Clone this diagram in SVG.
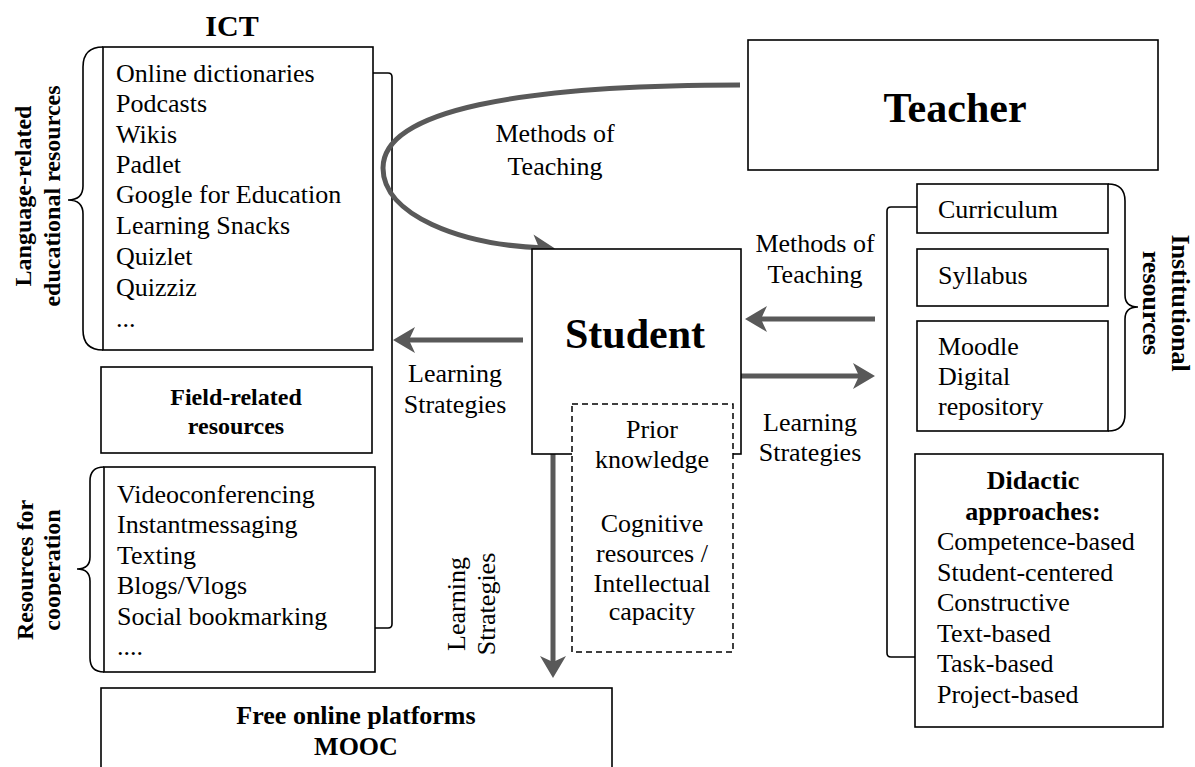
<svg xmlns="http://www.w3.org/2000/svg" width="1195" height="767" viewBox="0 0 1195 767">
<style>
text{font-family:"Liberation Serif","Times New Roman",serif;font-size:26px;fill:#000}
.b{font-weight:bold}
.m{text-anchor:middle}
.box{fill:#fff;stroke:#000;stroke-width:1.6}
.dash{fill:#fff;stroke:#000;stroke-width:1.5;stroke-dasharray:6 4}
.ln{fill:none;stroke:#000;stroke-width:1.6}
.arr{fill:none;stroke:#595959;stroke-width:5;marker-end:url(#ah)}
</style>
<defs>
<marker id="ah" markerUnits="userSpaceOnUse" viewBox="-14 -15 28 30" markerWidth="28" markerHeight="30" refX="0" refY="0" orient="auto">
<path d="M11,0 L-11,-13 L-5,0 L-11,13 Z" fill="#595959"/>
</marker>
<clipPath id="clipcoop"><rect x="0" y="440" width="61" height="260"/></clipPath>
</defs>
<rect width="1195" height="767" fill="#fff"/>

<g id="connectors">
<path class="ln" d="M373,73 L388,73 Q392,73 392,77 L392,624 Q392,628 388,628 L375,628"/>
<path class="ln" d="M917,207 L891,207 Q887,207 887,211 L887,653 Q887,657 891,657 L915,657"/>
<path class="arr" d="M740,85 C520,85 383,110 383,168 C383,215 460,245 544,248"/>
<path class="arr" d="M523,340 L404,340"/>
<path class="arr" d="M875,319 L756,319"/>
<path class="arr" d="M741,376 L864,376"/>
<path class="arr" d="M553,454 L553,667"/>
</g>

<g id="label-ict"><text class="b m" x="232" y="36" style="font-size:30px">ICT</text></g>

<g id="ict-language">
<rect class="box" x="103" y="47" width="270" height="303"/>
<text x="116" y="82">Online dictionaries</text>
<text x="116" y="112">Podcasts</text>
<text x="116" y="143">Wikis</text>
<text x="116" y="173">Padlet</text>
<text x="116" y="203">Google for Education</text>
<text x="116" y="234">Learning Snacks</text>
<text x="116" y="265">Quizlet</text>
<text x="116" y="296">Quizziz</text>
<text x="116" y="327">...</text>
</g>

<g id="brace-language">
<path class="ln" d="M103,47 Q83,47 83,67 L83,186 Q83,200 68,200 Q83,200 83,214 L83,330 Q83,350 103,350"/>
<text class="b m" style="font-size:24px" transform="translate(31,196) rotate(-90)">Language-related</text>
<text class="b m" style="font-size:24px" transform="translate(60,196) rotate(-90)">educational resources</text>
</g>

<g id="field">
<rect class="box" x="101" y="367" width="271" height="86"/>
<text class="b m" style="font-size:24px" x="236" y="405">Field-related</text>
<text class="b m" style="font-size:24px" x="236" y="434">resources</text>
</g>

<g id="cooperation">
<rect class="box" x="104" y="467" width="271" height="205"/>
<text x="117" y="503">Videoconferencing</text>
<text x="117" y="533">Instantmessaging</text>
<text x="117" y="564">Texting</text>
<text x="117" y="594">Blogs/Vlogs</text>
<text x="117" y="625">Social bookmarking</text>
<text x="117" y="655">....</text>
</g>

<g id="brace-cooperation">
<path class="ln" d="M104,467 Q90,467 90,481 L90,557 Q90,569 77,569 Q90,569 90,581 L90,658 Q90,672 104,672"/>
<g clip-path="url(#clipcoop)">
<text class="b m" style="font-size:24px" transform="translate(33,570) rotate(-90)">Resources for</text>
<text class="b m" style="font-size:24px" transform="translate(60,570) rotate(-90)">cooperation</text>
</g>
</g>

<g id="mooc">
<rect class="box" x="101" y="688" width="511" height="100"/>
<text class="b m" x="356" y="724">Free online platforms</text>
<text class="b m" x="356" y="755">MOOC</text>
</g>

<g id="teacher">
<rect class="box" x="748" y="40" width="410" height="130"/>
<text class="b m" style="font-size:42px" x="955" y="122">Teacher</text>
</g>

<g id="label-methods-top">
<text class="m" x="555" y="142">Methods of</text>
<text class="m" x="555" y="175">Teaching</text>
</g>

<g id="student">
<rect class="box" x="532" y="249" width="209" height="205"/>
<text class="b m" style="font-size:42px" x="635" y="348">Student</text>
</g>

<g id="student-traits">
<rect class="dash" x="572" y="404" width="161" height="248"/>
<text class="m" x="652" y="438">Prior</text>
<text class="m" x="652" y="468">knowledge</text>
<text class="m" x="652" y="532">Cognitive</text>
<text class="m" x="652" y="562">resources /</text>
<text class="m" x="652" y="592">Intellectual</text>
<text class="m" x="652" y="620">capacity</text>
</g>

<g id="label-learning-left">
<text class="m" x="455" y="382">Learning</text>
<text class="m" x="455" y="413">Strategies</text>
</g>

<g id="label-methods-right">
<text class="m" x="815" y="252">Methods of</text>
<text class="m" x="815" y="283">Teaching</text>
</g>

<g id="label-learning-right">
<text class="m" x="810" y="431">Learning</text>
<text class="m" x="810" y="461">Strategies</text>
</g>

<g id="label-learning-down">
<text class="m" transform="translate(465,604) rotate(-90)">Learning</text>
<text class="m" transform="translate(495,604) rotate(-90)">Strategies</text>
</g>

<g id="curriculum">
<rect class="box" x="917" y="184" width="191" height="49"/>
<text x="938" y="218">Curriculum</text>
</g>

<g id="syllabus">
<rect class="box" x="917" y="249" width="191" height="57"/>
<text x="938" y="284">Syllabus</text>
</g>

<g id="moodle">
<rect class="box" x="917" y="321" width="191" height="110"/>
<text x="938" y="355">Moodle</text>
<text x="938" y="385">Digital</text>
<text x="938" y="415">repository</text>
</g>

<g id="brace-institutional">
<path class="ln" d="M1108,184 Q1125,184 1125,201 L1125,295 Q1125,307 1138,307 Q1125,307 1125,319 L1125,414 Q1125,431 1108,431"/>
<text class="b m" transform="translate(1172,303) rotate(90)">Institutional</text>
<text class="b m" transform="translate(1143,303) rotate(90)">resources</text>
</g>

<g id="didactic">
<rect class="box" x="915" y="454" width="248" height="273"/>
<text class="b m" x="1033" y="489">Didactic</text>
<text class="b m" x="1033" y="520">approaches:</text>
<text x="937" y="550">Competence-based</text>
<text x="937" y="581">Student-centered</text>
<text x="937" y="611">Constructive</text>
<text x="937" y="642">Text-based</text>
<text x="937" y="672">Task-based</text>
<text x="937" y="703">Project-based</text>
</g>
</svg>
